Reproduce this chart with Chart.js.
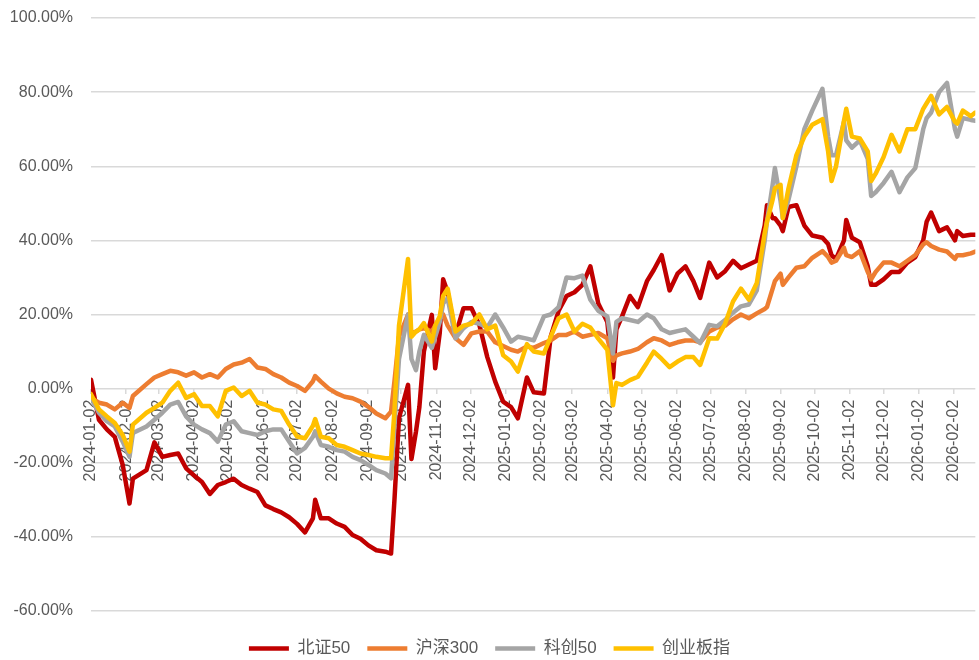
<!DOCTYPE html>
<html>
<head>
<meta charset="utf-8">
<script src="https://cdn.jsdelivr.net/npm/chart.js@4.4.1/dist/chart.umd.min.js"></script>
<style>
  body { margin: 0; background: #fff; }
  #wrap { width: 979px; height: 660px; }
</style>
</head>
<body>
<div id="wrap"><canvas id="perfChart" width="979" height="660"></canvas></div>
<script>
// sample dates (roughly weekly, plus a few turning points)
const dates = [
  '2024-01-02','2024-01-09','2024-01-16','2024-01-23','2024-01-30','2024-02-05','2024-02-08','2024-02-20','2024-02-27',
  '2024-03-05','2024-03-12','2024-03-19','2024-03-26','2024-04-02','2024-04-09','2024-04-16','2024-04-23','2024-04-30',
  '2024-05-07','2024-05-14','2024-05-21','2024-05-28','2024-06-04','2024-06-11','2024-06-18','2024-06-25','2024-07-02',
  '2024-07-09','2024-07-16','2024-07-18','2024-07-23','2024-07-30','2024-08-06','2024-08-13','2024-08-20','2024-08-27',
  '2024-09-03','2024-09-10','2024-09-18','2024-09-23','2024-09-26','2024-09-30','2024-10-08','2024-10-11','2024-10-15',
  '2024-10-18','2024-10-22','2024-10-29','2024-11-01','2024-11-05','2024-11-08','2024-11-12','2024-11-19','2024-11-26',
  '2024-12-03','2024-12-10','2024-12-17','2024-12-24','2024-12-31','2025-01-07','2025-01-13','2025-01-21','2025-01-27',
  '2025-02-05','2025-02-11','2025-02-18','2025-02-25','2025-03-04','2025-03-11','2025-03-18','2025-03-25','2025-04-02',
  '2025-04-07','2025-04-10','2025-04-15','2025-04-22','2025-04-29','2025-05-07','2025-05-13','2025-05-20','2025-05-27',
  '2025-06-03','2025-06-10','2025-06-17','2025-06-23','2025-07-01','2025-07-08','2025-07-15','2025-07-22','2025-07-29',
  '2025-08-05','2025-08-12','2025-08-19','2025-08-21','2025-08-26','2025-08-28','2025-09-02','2025-09-04','2025-09-09',
  '2025-09-16','2025-09-23','2025-09-30','2025-10-09','2025-10-14','2025-10-17','2025-10-21','2025-10-28','2025-10-30',
  '2025-11-04','2025-11-11','2025-11-18','2025-11-21','2025-11-25','2025-12-02','2025-12-09','2025-12-16','2025-12-23',
  '2025-12-30','2026-01-06','2026-01-09','2026-01-13','2026-01-20','2026-01-27','2026-02-03','2026-02-05','2026-02-10',
  '2026-02-17','2026-02-21'
];

// cumulative returns, %
const bz50 = [
  2.4,-8.4,-11,-13,-20.6,-31,-24.3,-22,-14.5,
  -18.4,-17.9,-17.5,-21.5,-23.4,-25.2,-28.4,-26,-25.2,
  -24.3,-26,-27,-27.9,-31.5,-32.5,-33.4,-34.7,-36.5,
  -38.8,-35,-30,-35,-35,-36.4,-37.3,-39.5,-40.5,
  -42.3,-43.6,-44,-44.5,-30,-8,1,-19,-11.6,
  -5,10,19.9,5.5,15,29.5,26,14.5,21.7,
  21.7,17.2,8.5,1.9,-3.5,-5,-8,3,-1,
  -1.3,14,21,25,26,28,33,23,18,
  3,16,19.5,25,22,29,32,36,26.5,
  31,33,29,24.5,34,30,31.7,34.5,32.5,
  33.5,34.5,44,49.5,46,46,44,42.5,49,
  49.5,44,41.3,40.7,39,36,35,40,45.5,
  40.7,39.5,33,28,28,29.5,31.5,31.5,34,
  35.5,40,45,47.5,42.5,43.5,40,42.5,41.2,
  41.5,41.5
];
const hs300 = [
  -2.5,-3.8,-4.3,-5.6,-3.8,-5.2,-2,1.2,3,
  3.9,4.8,4.4,3.5,4.4,3,3.9,3,5.3,
  6.5,7,8,5.7,5.3,3.9,3,1.6,0.7,
  -0.6,2,3.4,1.9,0,-1.3,-2.2,-2.6,-3.5,
  -4.9,-6.7,-8,-6.2,2,14,20,15,15.4,
  16,16.3,15.4,17,19,20,17,13.6,11.8,
  14.9,15.4,15.4,12.5,11.5,10.5,10,11.4,11,
  12.3,13,14.5,14.5,15.4,14,14.5,15,13.6,
  7.5,9,9.5,10,10.7,12.5,13.6,13,11.8,
  12.5,13,13,12.5,15.4,16.5,17,18.7,20,
  19,20.3,21.5,22,27,29,31,28,30,
  32.6,33,35.3,37.1,35.5,34,34.5,38,36,
  35.5,37.1,31.5,29.5,31.5,34,34,33,34.5,
  36,38.9,39.5,38.5,37.5,37,35,36,36,
  36.5,37
];
const kc50 = [
  -2.5,-6.5,-8.8,-10.2,-14.3,-18.4,-12,-10.2,-8.4,
  -6.5,-4.3,-3.6,-7.5,-9.7,-11,-12,-14.3,-9.7,
  -8.8,-11.5,-12,-12.5,-11.5,-11,-11,-14.3,-17.5,
  -16,-13,-11.5,-15.2,-15.7,-16.6,-17,-18.4,-19.3,
  -20.6,-22,-22.9,-24.2,-10,8,20,8,5,
  10,14.5,11,14,18,23,24.4,13.6,16.3,
  18,17.5,16.5,20,16.5,12.7,14,13.5,13,
  19.5,20,22,30,29.8,30.5,24,21,19.5,
  9.5,18,19,18.5,18,20,19,16,15,
  15.5,16,14,12.3,17.2,16.8,18.5,20.5,22.2,
  22.7,26.5,40,45,55,59.5,50.6,46,51,
  60,70,75,80.9,68,63,63,72,67,
  65,67,62,52,53,55.5,58.5,53,57,
  59.5,70,73,74.5,80,82.5,70,68,73,
  72.5,72.3
];
const cyb = [
  -1.5,-5.6,-7.5,-9.3,-12.5,-17,-9.7,-6.5,-5.2,
  -3.8,-0.6,1.6,-2.5,-1.5,-4.7,-4.7,-7.5,-0.6,
  0.3,-2,-0.6,-3.8,-4.3,-5.6,-6,-9.7,-12.9,
  -13.4,-10,-8.2,-13,-13.4,-15.2,-15.7,-16.6,-17.5,
  -17.9,-18.4,-18.8,-18.8,-6,17,35,14,15.4,
  16,17.7,12.7,17,19.5,25,27,15.4,17,
  17.5,20,16,17,9,7.3,4.6,12,10,
  9.5,14,19,20,15.4,17.5,16.5,13.5,10.5,
  -4.5,1.5,1,2.3,3.2,7,10,8,5.8,
  7.3,8.5,8.5,6.4,13.6,13.5,17.5,23.5,27,
  24,28.5,42,45,51,54,55,46,54,
  63,68,71.2,72.7,64,56,60,72.3,75.5,
  68,67.5,64,56,58,62.5,68.5,64,70,
  70,75.5,77,79,74,76,72,71.5,75,
  73.5,74.5
];

const seriesNames = ['北证50', '沪深300', '科创50', '创业板指'];
const seriesColors = ['#c00000', '#ed7d31', '#a5a5a5', '#ffc000'];
const seriesValues = [bz50, hs300, kc50, cyb];

// x tick labels (monthly)
const monthTicks = [
  '2024-01-02','2024-02-02','2024-03-02','2024-04-02','2024-05-02','2024-06-02','2024-07-02','2024-08-02','2024-09-02',
  '2024-10-02','2024-11-02','2024-12-02','2025-01-02','2025-02-02','2025-03-02','2025-04-02','2025-05-02','2025-06-02',
  '2025-07-02','2025-08-02','2025-09-02','2025-10-02','2025-11-02','2025-12-02','2026-01-02','2026-02-02'
];

const t0 = Date.parse(dates[0]);
const dayOf = s => Math.round((Date.parse(s) - t0) / 864e5);
const tickLabelByDay = {};
monthTicks.forEach(s => { tickLabelByDay[dayOf(s)] = s; });

const fontFamily = "'Liberation Sans', Arial, 'Noto Sans CJK SC', sans-serif";
const textColor = '#595959';
const gridColor = '#d9d9d9';

const datasets = seriesNames.map((name, i) => ({
  label: name,
  data: dates.map((d, j) => ({ x: dayOf(d), y: seriesValues[i][j] })),
  borderColor: seriesColors[i],
  backgroundColor: seriesColors[i],
  borderWidth: 4.5,
  borderCapStyle: 'round',
  borderJoinStyle: 'round',
  pointRadius: 0,
  tension: 0,
  order: seriesNames.length - i   // last series drawn on top
}));

new Chart(document.getElementById('perfChart').getContext('2d'), {
  type: 'line',
  data: { datasets },
  options: {
    responsive: false,
    animation: false,
    devicePixelRatio: 1,
    layout: { padding: { top: 18, right: 0, bottom: -7, left: 0 } },
    plugins: {
      tooltip: { enabled: false },
      legend: {
        position: 'bottom',
        title: { display: true, text: '', font: { size: 10, lineHeight: 1.2 }, padding: 0 },
        labels: {
          usePointStyle: true,
          pointStyle: 'line',
          pointStyleWidth: 40,
          padding: 17,
          color: textColor,
          font: { size: 17, family: fontFamily },
          sort: (a, b) => a.datasetIndex - b.datasetIndex
        }
      }
    },
    scales: {
      x: {
        type: 'linear',
        min: 0,
        max: dayOf(dates[dates.length - 1]),
        position: { y: 0 },
        border: { display: false },
        grid: { drawOnChartArea: false, drawTicks: true, tickLength: 5, tickColor: gridColor, lineWidth: 1.5 },
        afterBuildTicks: scale => {
          scale.ticks = monthTicks.map(s => ({ value: dayOf(s) }));
        },
        ticks: {
          autoSkip: false,
          minRotation: 90,
          maxRotation: 90,
          padding: 6,
          color: textColor,
          font: { size: 16, family: fontFamily },
          callback: v => tickLabelByDay[v] || ''
        }
      },
      y: {
        min: -60,
        max: 100,
        border: { display: false },
        // invisible tick marks keep the labels 18px away from the plot
        grid: { color: gridColor, lineWidth: 1.5, drawTicks: true, tickLength: 18, tickColor: 'rgba(0,0,0,0)' },
        ticks: {
          stepSize: 20,
          padding: 0,
          color: textColor,
          font: { size: 16, family: fontFamily },
          callback: v => v.toFixed(2) + '%'
        },
        afterFit: scale => { scale.width = 91; }
      }
    }
  }
});
</script>
</body>
</html>
